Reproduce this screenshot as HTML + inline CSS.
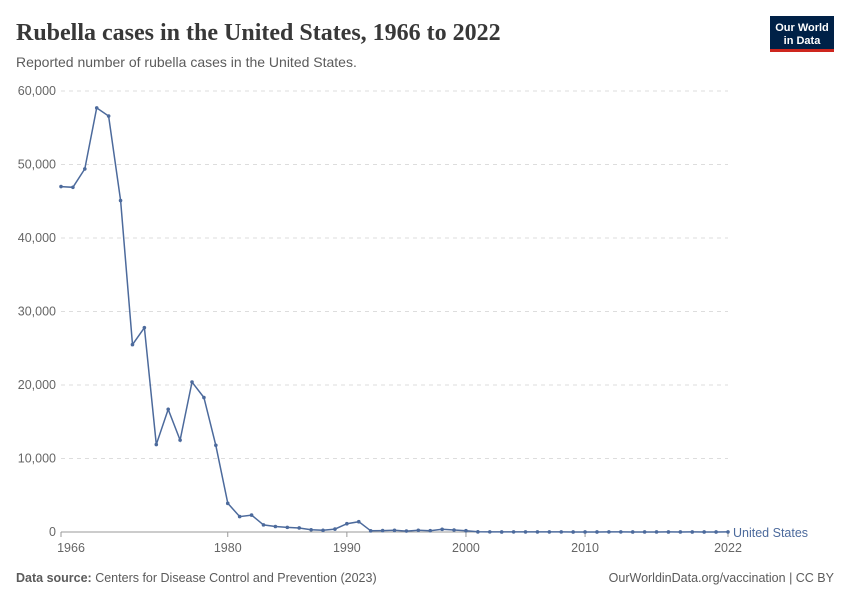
<!DOCTYPE html>
<html><head><meta charset="utf-8"><style>
body{margin:0;background:#fff;width:850px;height:600px;overflow:hidden;font-family:"Liberation Sans",sans-serif}
</style></head><body>
<svg id="s" width="850" height="600" xmlns="http://www.w3.org/2000/svg">
<text x="16" y="40" font-family="Liberation Serif,serif" font-size="24" font-weight="bold" fill="#383838">Rubella cases in the United States, 1966 to 2022</text>
<text x="16" y="67" font-size="14" fill="#5b5b5b">Reported number of rubella cases in the United States.</text>
<rect x="770" y="16" width="64" height="36" fill="#002147"/>
<rect x="770" y="49" width="64" height="3" fill="#ce261e"/>
<text x="802" y="31" font-size="11" fill="#fff" text-anchor="middle" font-weight="bold">Our World</text>
<text x="802" y="44" font-size="11" fill="#fff" text-anchor="middle" font-weight="bold">in Data</text>
<g id="g"></g>
<text x="16" y="582" font-size="12.5" fill="#5b5b5b"><tspan font-weight="bold">Data source:</tspan> Centers for Disease Control and Prevention (2023)</text>
<text x="834" y="582" font-size="12.5" fill="#5b5b5b" text-anchor="end">OurWorldinData.org/vaccination | CC BY</text>
</svg>
<script>
var g=document.getElementById('g'),h='';
function Y(v){return 532-v*441/60000}
function X(y){return 61+(y-1966)*667/56}
for(var i=0;i<=6;i++){var y=Y(i*10000);
h+='<line x1="61" x2="728" y1="'+y+'" y2="'+y+'" stroke="#ddd" stroke-dasharray="'+(i?'4,4':'0')+'" '+(i?'':'stroke="#999"')+'/>';
h+='<text x="56" y="'+(y+4)+'" font-size="12.5" fill="#666" text-anchor="end">'+(i?(i*10)+',000':'0')+'</text>';}
h+='<line x1="61" x2="728" y1="532" y2="532" stroke="#999"/>';
[1966,1980,1990,2000,2010,2022].forEach(function(t){var x=X(t);
h+='<line x1="'+x+'" x2="'+x+'" y1="532" y2="537" stroke="#999"/><text x="'+(t==1966?x+10:x)+'" y="552" font-size="12.5" fill="#666" text-anchor="middle">'+t+'</text>';});
var d=[47000,46900,49400,57700,56600,45100,25500,27800,11900,16700,12500,20400,18300,11800,3900,2100,2300,970,750,630,550,306,225,396,1125,1401,160,192,227,128,238,181,364,267,176,23,18,7,10,11,11,12,16,3,5,4,9,9,6,5,5,7,5,8,6,6,15];
var p=d.map(function(v,i){return X(1966+i).toFixed(1)+','+Y(v).toFixed(1)}).join(' ');
h+='<polyline points="'+p+'" fill="none" stroke="#4c6a9c" stroke-width="1.5"/>';
d.forEach(function(v,i){h+='<circle cx="'+X(1966+i)+'" cy="'+Y(v)+'" r="1.8" fill="#4c6a9c"/>'});
h+='<text x="733" y="537" font-size="12.5" fill="#4c6a9c">United States</text>';
g.innerHTML=h;
</script>
</body></html>
